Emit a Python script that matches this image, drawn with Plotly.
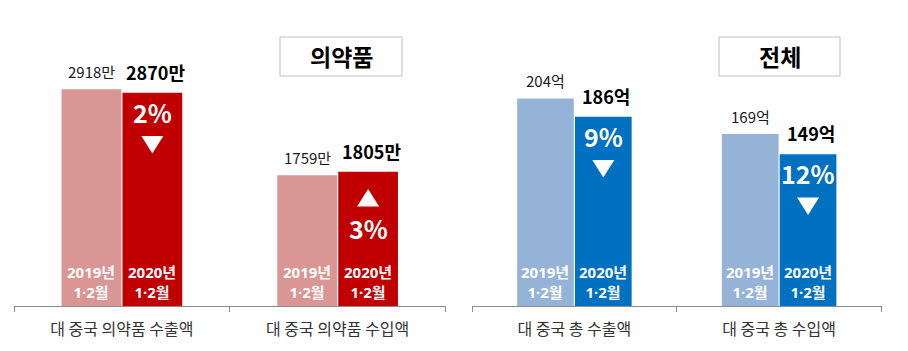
import plotly.graph_objects as go

# ---------------- data ----------------
pharma_cats = ["대 중국 의약품 수출액", "대 중국 의약품 수입액"]
pharma_2019 = [2918, 1759]
pharma_2020 = [2870, 1805]
pharma_change = ["2%", "3%"]
pharma_dir = ["down", "up"]
pharma_unit = "만"

total_cats = ["대 중국 총 수출액", "대 중국 총 수입액"]
total_2019 = [204, 169]
total_2020 = [186, 149]
total_change = ["9%", "12%"]
total_dir = ["down", "down"]
total_unit = "억"

period_labels = ["2019년<br>1·2월", "2020년<br>1·2월"]
panel_titles = ["의약품", "전체"]

# ---------------- styling ----------------
W, H = 908, 351
FONT = "Noto Sans CJK KR"
FONT_MIX = "Noto Sans, Noto Sans CJK KR"
C_PINK, C_RED = "#D99694", "#C00000"
C_LBLUE, C_BLUE = "#95B3D7", "#0070C0"
AXIS_C = "#8C8C8C"
BARGAP = 0.435
TRI_W, TRI_H = 22, 17.5

x1_dom = [14 / W, 445.5 / W]
x2_dom = [472 / W, 881.5 / W]
y_dom = [45 / H, 1.0]

fig = go.Figure()

panels = [
    dict(cats=pharma_cats, v19=pharma_2019, v20=pharma_2020, chg=pharma_change,
         dirs=pharma_dir, unit=pharma_unit, cols=(C_PINK, C_RED), xa="x", ya="y",
         dom=x1_dom, ymax=4118),
    dict(cats=total_cats, v19=total_2019, v20=total_2020, chg=total_change,
         dirs=total_dir, unit=total_unit, cols=(C_LBLUE, C_BLUE), xa="x2", ya="y2",
         dom=x2_dom, ymax=300.7),
]

annotations = []
shapes = []
for p in panels:
    fig.add_trace(go.Bar(x=p["cats"], y=p["v19"], marker_color=p["cols"][0],
                         marker_line_width=0, xaxis=p["xa"], yaxis=p["ya"],
                         offsetgroup="a", hoverinfo="skip", showlegend=False))
    fig.add_trace(go.Bar(x=p["cats"], y=p["v20"], marker_color=p["cols"][1],
                         marker_line_width=0, xaxis=p["xa"], yaxis=p["ya"],
                         offsetgroup="b", hoverinfo="skip", showlegend=False))
    cat_px = (p["dom"][1] - p["dom"][0]) * W / len(p["cats"])
    off = cat_px * (1 - BARGAP) / 4
    for i, c in enumerate(p["cats"]):
        common = dict(x=c, xref=p["xa"], yref=p["ya"], showarrow=False,
                      xanchor="center", yanchor="middle")
        # value labels
        annotations.append(dict(common, y=p["v19"][i], xshift=-off, yshift=18,
                                text=f"{p['v19'][i]}{p['unit']}",
                                font=dict(family=FONT, size=15, color="#1a1a1a")))
        annotations.append(dict(common, y=p["v20"][i], xshift=off + 3, yshift=21,
                                text=f"<b>{p['v20'][i]}{p['unit']}</b>",
                                font=dict(family=FONT, size=18, color="#000000")))
        # change labels inside the 2020 bar
        if p["dirs"][i] == "down":
            pct_y, tri_y = -19, -52
            cy = tri_y
            path = (f"M {off - TRI_W/2},{cy + TRI_H/2} L {off + TRI_W/2},{cy + TRI_H/2} "
                    f"L {off},{cy - TRI_H/2} Z")
        else:
            pct_y, tri_y = -56, -26
            cy = tri_y
            path = (f"M {off - TRI_W/2},{cy - TRI_H/2} L {off + TRI_W/2},{cy - TRI_H/2} "
                    f"L {off},{cy + TRI_H/2} Z")
        annotations.append(dict(common, y=p["v20"][i], xshift=off, yshift=pct_y,
                                text=f"<b>{p['chg'][i]}</b>",
                                font=dict(family=FONT, size=25, color="white")))
        shapes.append(dict(type="path", xref=p["xa"], yref=p["ya"],
                           xsizemode="pixel", ysizemode="pixel",
                           xanchor=i, yanchor=p["v20"][i], path=path,
                           fillcolor="white", line=dict(width=0), layer="above"))
        # period labels at the bottom of bars
        for k, sgn in enumerate((-1, 1)):
            annotations.append(dict(common, y=0, xshift=sgn * off, yshift=24.5,
                                    text=f"<b>{period_labels[k]}</b>",
                                    font=dict(family=FONT_MIX, size=15, color="white")))

# title boxes
boxes = [(280, 402), (719, 840)]
for (bx0, bx1), t in zip(boxes, panel_titles):
    shapes.append(dict(type="rect", xref="paper", yref="paper",
                       x0=bx0 / W, x1=bx1 / W, y0=1 - 76 / H, y1=1 - 37 / H,
                       line=dict(color="#BFBFBF", width=1), fillcolor="white",
                       layer="below"))
    annotations.append(dict(xref="paper", yref="paper", x=(bx0 + bx1) / 2 / W,
                            y=1 - 56 / H, text=f"<b>{t}</b>", showarrow=False,
                            xanchor="center", yanchor="middle",
                            font=dict(family=FONT, size=23, color="#000000")))

xcommon = dict(showline=True, linecolor=AXIS_C, linewidth=1.3, ticks="outside",
               tickson="boundaries", ticklen=5, tickcolor=AXIS_C, tickwidth=1.3,
               showgrid=False, zeroline=False, automargin=False,
               ticklabelstandoff=9,
               tickfont=dict(family=FONT, size=16, color="#333333"), fixedrange=True)
ycommon = dict(visible=False, showgrid=False, zeroline=False, domain=y_dom,
               fixedrange=True)

fig.update_layout(
    width=W, height=H,
    margin=dict(l=0, r=0, t=0, b=0),
    paper_bgcolor="white", plot_bgcolor="white",
    barmode="group", bargap=BARGAP, bargroupgap=0.02,
    xaxis=dict(xcommon, domain=x1_dom, anchor="y"),
    xaxis2=dict(xcommon, domain=x2_dom, anchor="y2"),
    yaxis=dict(ycommon, range=[0, panels[0]["ymax"]], anchor="x"),
    yaxis2=dict(ycommon, range=[0, panels[1]["ymax"]], anchor="x2"),
    annotations=annotations,
    shapes=shapes,
    showlegend=False,
)

fig.write_html("out.html")
